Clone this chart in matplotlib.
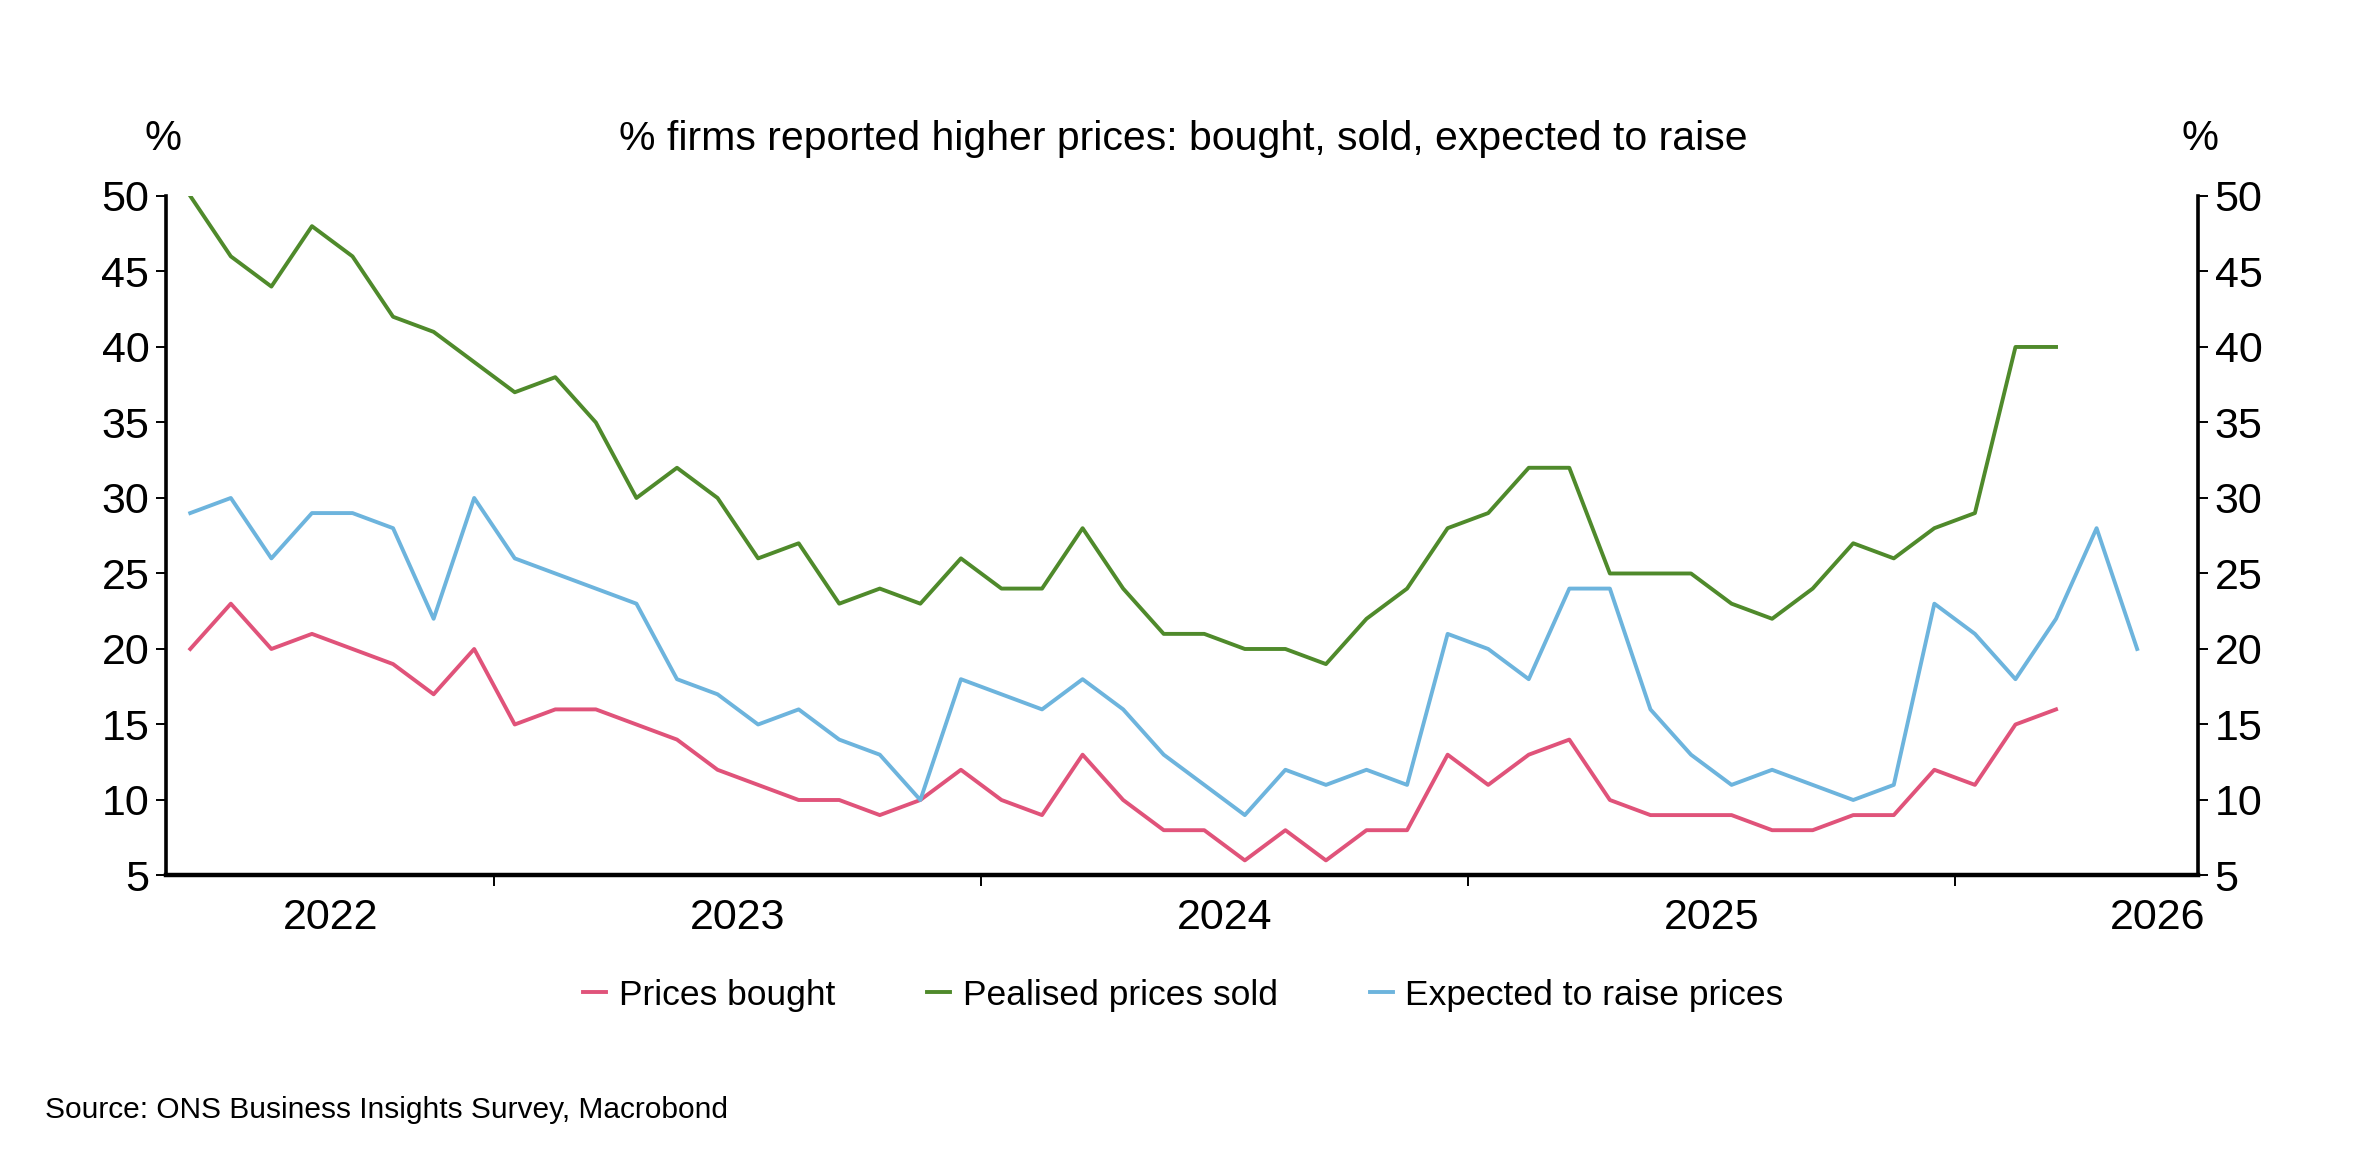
import numpy as np
import matplotlib.pyplot as plt

# monthly survey readings, first point mid-2022
prices_bought = [20, 23, 20, 21, 20, 19, 17, 20, 15, 16, 16, 15, 14, 12, 11, 10,
                 10, 9, 10, 12, 10, 9, 13, 10, 8, 8, 6, 8, 6, 8, 8, 13, 11, 13,
                 14, 10, 9, 9, 9, 8, 8, 9, 9, 12, 11, 15, 16]
prices_sold = [50, 46, 44, 48, 46, 42, 41, 39, 37, 38, 35, 30, 32, 30, 26, 27,
               23, 24, 23, 26, 24, 24, 28, 24, 21, 21, 20, 20, 19, 22, 24, 28, 29, 32,
               32, 25, 25, 25, 23, 22, 24, 27, 26, 28, 29, 40, 40]
expected_raise = [29, 30, 26, 29, 29, 28, 22, 30, 26, 25, 24, 23, 18, 17, 15, 16,
                  14, 13, 10, 18, 17, 16, 18, 16, 13, 11, 9, 12, 11, 12, 11, 21, 20, 18,
                  24, 24, 16, 13, 11, 12, 11, 10, 11, 23, 21, 18, 22, 28, 20]

year_labels = ['2022', '2023', '2024', '2025', '2026']
year_label_pos = [3.45, 13.5, 25.5, 37.5, 48.5]
year_breaks = [7.5, 19.5, 31.5, 43.5]

c_red = '#e0537a'
c_green = '#4f8a2b'
c_blue = '#6db4dd'

plt.rcParams['font.family'] = ['Liberation Sans', 'DejaVu Sans']

fig = plt.figure(figsize=(23.67, 11.5), dpi=100)
ax = fig.add_axes([0.0701, 0.2387, 0.9286 - 0.0701, 0.8296 - 0.2387])

ax.plot(np.arange(len(prices_bought)), prices_bought, color=c_red, lw=2.8, label='Prices bought')
ax.plot(np.arange(len(prices_sold)), prices_sold, color=c_green, lw=2.8, label='Pealised prices sold')
ax.plot(np.arange(len(expected_raise)), expected_raise, color=c_blue, lw=2.8, label='Expected to raise prices')

ax.set_xlim(-0.6, 49.5)
ax.set_ylim(5, 50)
ax.set_yticks(np.arange(5, 51, 5))

ax.spines['top'].set_visible(False)
for s in ['left', 'right']:
    ax.spines[s].set_linewidth(2.6)
ax.spines['bottom'].set_linewidth(3.2)

ax.tick_params(axis='y', which='both', direction='out', length=7, width=1.4,
               labelsize=31, pad=5, left=True, right=True, labelleft=True, labelright=True)

ax.set_xticks(year_breaks)
ax.set_xticklabels([])
ax.set_xticks(year_label_pos, minor=True)
ax.set_xticklabels(year_labels, minor=True)
ax.tick_params(axis='x', which='major', direction='out', length=8, width=1.4)
ax.tick_params(axis='x', which='minor', length=0, labelsize=31, pad=16)

fig.text(163 / 2367, 1 - 139 / 1150, '%', fontsize=30, ha='center', va='center')
fig.text(2200 / 2367, 1 - 139 / 1150, '%', fontsize=30, ha='center', va='center')
fig.text(1183 / 2367, 1 - 139 / 1150, '% firms reported higher prices: bought, sold, expected to raise',
         fontsize=29.5, ha='center', va='center')

fig.legend(loc='center', bbox_to_anchor=(0.5, 1 - 995 / 1150), ncol=3, frameon=False,
           fontsize=25.5, handlelength=0.65, handletextpad=0.35, columnspacing=2.6)

fig.text(45 / 2367, 1 - 1110 / 1150, 'Source: ONS Business Insights Survey, Macrobond',
         fontsize=21.5, ha='left', va='center')

plt.savefig('out.png', dpi=100)
